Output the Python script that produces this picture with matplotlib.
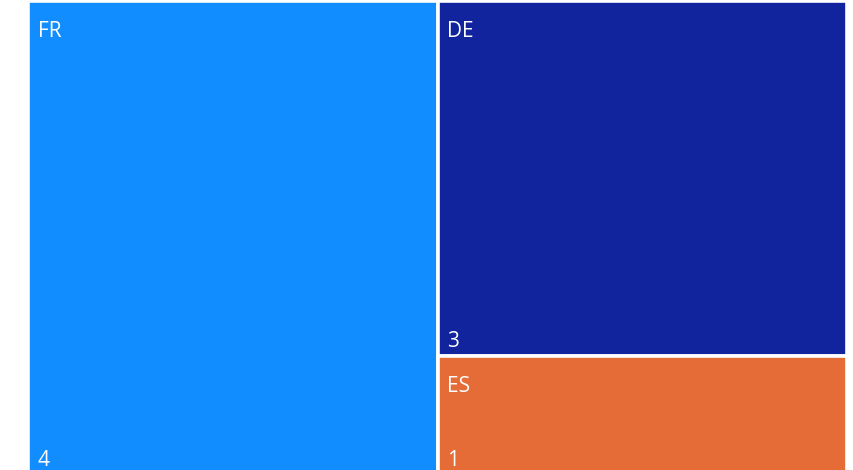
import matplotlib.pyplot as plt
from matplotlib.patches import Rectangle

names = ["FR", "DE", "ES"]
values = [4, 3, 1]
colors = ["#118DFF", "#12239E", "#E66C37"]

W, H = 854, 470
fig = plt.figure(figsize=(W / 100, H / 100), dpi=100)
# plot area in pixels (left, top, right, bottom); bottom runs a bit past the image
left, top, right, bottom = 28.5, 0.5, 847.5, 474.5
ax = fig.add_axes([left / W, 1 - bottom / H, (right - left) / W, (bottom - top) / H])
ax.set_xlim(0, 1)
ax.set_ylim(1, 0)
ax.axis("off")

# simple slice layout: largest item takes a full-height column, rest stacked
total = sum(values)
rects = []
x0 = values[0] / total
rects.append((0, 0, x0, 1))
rest = sum(values[1:])
y = 0
for v in values[1:]:
    h = v / rest
    rects.append((x0, y, 1 - x0, h))
    y += h

pw = right - left
ph = bottom - top
for (x, y, w, h), name, val, c in zip(rects, names, values, colors):
    ax.add_patch(Rectangle((x, y), w, h, facecolor=c, edgecolor="white", linewidth=2.6))
    ax.text(x + 9.5 / pw, y + 36.5 / ph, name, color="white", fontsize=15,
            family="Open Sans", ha="left", va="baseline")
    ax.text(x + 9.5 / pw, y + h - 9 / ph, str(val), color="white", fontsize=15,
            family="Open Sans", ha="left", va="baseline")

fig.savefig("out.png", dpi=100)
